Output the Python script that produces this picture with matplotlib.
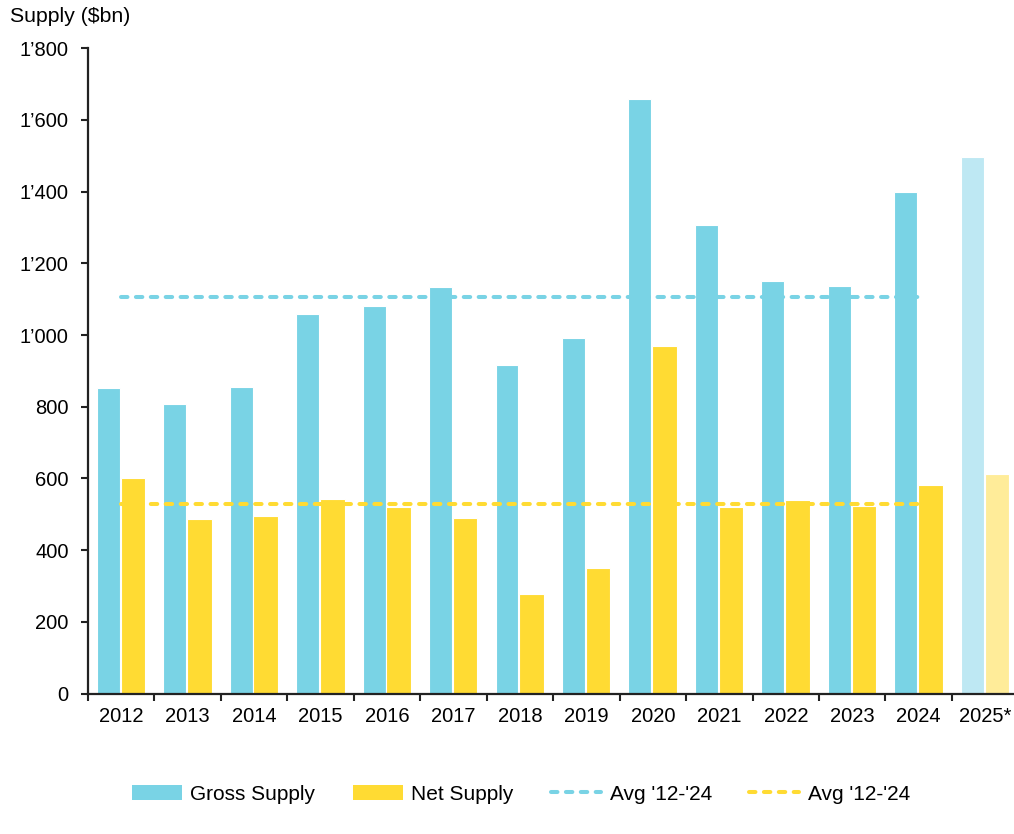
import matplotlib
matplotlib.use("Agg")
import matplotlib.pyplot as plt
from matplotlib.lines import Line2D
from matplotlib.patches import Patch
from matplotlib.ticker import FuncFormatter
import numpy as np

years = ["2012", "2013", "2014", "2015", "2016", "2017", "2018",
         "2019", "2020", "2021", "2022", "2023", "2024", "2025*"]
gross_supply = [852, 808, 855, 1059, 1082, 1134, 917,
                991, 1659, 1308, 1150, 1137, 1398, 1498]
net_supply = [600, 486, 495, 542, 521, 490, 278,
              350, 970, 520, 540, 523, 581, 611]
avg_gross = 1106
avg_net = 530
avg_label = "Avg '12-'24"

blue = "#79d3e5"
yellow = "#ffdb33"
blue_light = "#bee8f3"
yellow_light = "#ffec99"

plt.rcParams["font.family"] = ["Liberation Sans", "DejaVu Sans"]
plt.rcParams["font.size"] = 14

fig = plt.figure(figsize=(10.14, 8.34), dpi=100)
ax = fig.add_axes([88 / 1014, 140.5 / 834, 930.4 / 1014, 645.2 / 834])

x = np.arange(len(years))
gcol = [blue] * (len(years) - 1) + [blue_light]
ncol = [yellow] * (len(years) - 1) + [yellow_light]
ax.bar(x - 0.195, gross_supply, width=0.345, color=gcol, edgecolor="white", linewidth=0.8)
ax.bar(x + 0.175, net_supply, width=0.37, color=ncol, edgecolor="white", linewidth=0.8)

# averages over 2012-2024, drawn between the 2012 and 2024 group centres
dash = (0, (1.6, 2.1))
ax.plot([0, 12], [avg_gross, avg_gross], color=blue, lw=2.9, linestyle=dash,
        dash_capstyle="round")
ax.plot([0, 12], [avg_net, avg_net], color=yellow, lw=2.9, linestyle=dash,
        dash_capstyle="round")

ax.set_xlim(-0.5, len(years) - 0.5)
ax.set_ylim(0, 1800)
ax.set_yticks(range(0, 1801, 200))
ax.yaxis.set_major_formatter(FuncFormatter(
    lambda v, p: f"{int(v):,}".replace(",", "\u2019")))

ax.set_xticks(x - 0.5)
ax.set_xticklabels([])
ax.set_xticks(x, minor=True)
ax.set_xticklabels(years, minor=True)
ax.tick_params(axis="x", which="major", length=5, width=1.5, color="#222222")
ax.tick_params(axis="x", which="minor", length=0, pad=10, labelsize=14.5)
ax.tick_params(axis="y", length=5, width=1.5, color="#222222", pad=9, labelsize=14.5)

for s in ["top", "right"]:
    ax.spines[s].set_visible(False)
for s in ["left", "bottom"]:
    ax.spines[s].set_linewidth(1.6)
    ax.spines[s].set_color("#222222")

fig.text(10 / 1014, 1 - 17 / 834, "Supply ($bn)", fontsize=15.3, va="center", ha="left")

handles = [
    Patch(facecolor=blue, edgecolor="none"),
    Patch(facecolor=yellow, edgecolor="none"),
    Line2D([0], [0], color=blue, lw=2.9, linestyle=dash, dash_capstyle="round"),
    Line2D([0], [0], color=yellow, lw=2.9, linestyle=dash, dash_capstyle="round"),
]
labels = ["Gross Supply", "Net Supply", avg_label, avg_label]
fig.legend(handles, labels, loc="center", bbox_to_anchor=(521 / 1014, 1 - 794 / 834),
           ncol=4, frameon=False, fontsize=15, handlelength=2.4,
           handletextpad=0.4, columnspacing=1.8)

fig.savefig("out.png", dpi=100)
